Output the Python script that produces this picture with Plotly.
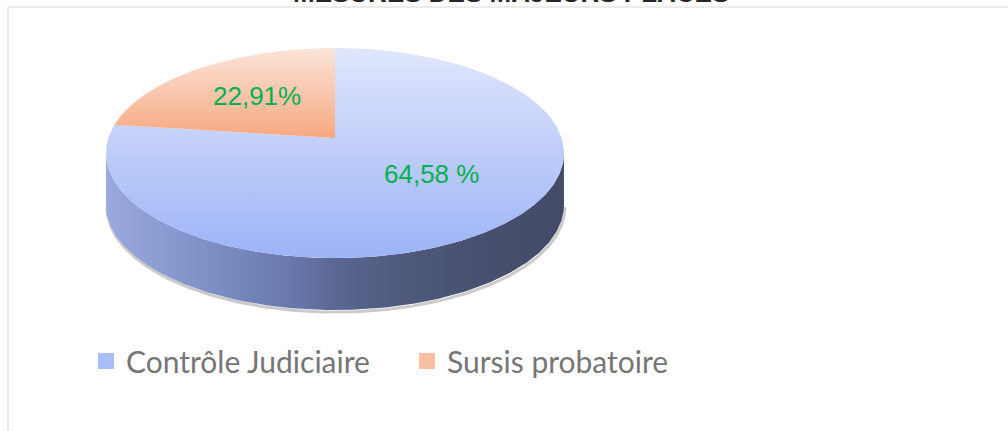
import numpy as np
import plotly.graph_objects as go

# ---- data ----
categories = ["Contrôle Judiciaire", "Sursis probatoire"]
shares = [77.09, 22.91]            # angular share of each slice as drawn
label_texts = ["64,58 %", "22,91%"]  # labels as printed on the chart
title_text = "MESURES DES MAJEURS PLACES"

# ---- styling / geometry ----
E = 0.143          # perspective factor of the tilted pie
DEPTH = 0.505      # thickness of the pie (y units)
top_scales = [
    [[0, "#9cb3f6"], [1, "#e0e7fc"]],
    [[0, "#f7a880"], [1, "#fbe5da"]],
]
legend_colors = ["#a9bdf8", "#f9bfa3"]
side_scale = [[0, "#9aaae0"], [0.205, "#8192c9"], [0.42, "#6676aa"], [0.51, "#5a6690"],
              [0.64, "#4f5a7d"], [0.82, "#47506e"], [1, "#424a66"]]


def proj(theta_deg, drop=0.0):
    t = np.radians(theta_deg)
    u = np.sin(t)
    v = -np.cos(t)
    w = 1 - E * v
    return u / w, -v / w - drop


fig = go.Figure()

# side wall (front half)
th_r = np.degrees(np.arccos(-E))
th_l = 360 - th_r
arc = np.linspace(th_r, th_l, 200)
tx, ty = proj(arc)
bx, by = proj(arc[::-1], DEPTH)

# soft shadow under the wall
sx, sy = proj(arc, DEPTH + 0.02)
fig.add_trace(go.Scatter(x=sx + 0.004, y=sy, mode="lines",
                         line=dict(color="rgba(80,80,80,0.3)", width=3),
                         hoverinfo="skip", showlegend=False))

fig.add_trace(go.Scatter(
    x=np.concatenate([tx, bx, tx[:1]]), y=np.concatenate([ty, by, ty[:1]]),
    mode="lines", line=dict(width=0), fill="toself",
    fillgradient=dict(type="horizontal", colorscale=side_scale,
                      start=float(tx.min()), stop=float(tx.max())),
    hoverinfo="skip", showlegend=False))

# top face slices
total = sum(shares)
y_top = proj(0)[1]
y_bot = proj(180)[1]
start = 0.0
for i, (cat, s) in enumerate(zip(categories, shares)):
    a0 = start
    a1 = start + 360 * s / total
    angs = np.linspace(a0, a1, 200)
    px, py = proj(angs)
    xs = np.concatenate([[0], px, [0]])
    ys = np.concatenate([[0], py, [0]])
    if i == 0:
        g0, g1 = float(y_bot), float(y_top)
    else:
        g0, g1 = 0.0, float(y_top)
    fig.add_trace(go.Scatter(
        x=xs, y=ys, mode="lines", line=dict(width=0), fill="toself",
        fillgradient=dict(type="vertical", colorscale=top_scales[i], start=g0, stop=g1),
        name=cat, hoverinfo="skip", showlegend=False))
    start = a1

# legend entries
for cat, col in zip(categories, legend_colors):
    fig.add_trace(go.Scatter(x=[None], y=[None], mode="markers", name=cat,
                             marker=dict(symbol="square", size=16, color=col)))

# data labels
label_pos = [(0.426, -0.350), (-0.346, 0.408)]
for txt, (lx, ly) in zip(label_texts, label_pos):
    fig.add_annotation(x=lx, y=ly, xref="x", yref="y", text=txt, showarrow=False,
                       font=dict(family="Liberation Sans, Arial", size=26, color="#00b050"))

# title (cut off at the top of the frame, as in the original)
fig.add_annotation(x=511 / 1008, y=1 + 7 / 431, xref="paper", yref="paper",
                   text="<b>" + title_text + "</b>", showarrow=False,
                   xanchor="center", yanchor="middle",
                   font=dict(family="Liberation Sans, Arial", size=26, color="#262626"))

# chart border
fig.add_shape(type="rect", xref="paper", yref="paper", x0=8 / 1008, x1=1.05,
              y0=-0.05, y1=1 - 7 / 431, line=dict(color="#d9d9d9", width=1),
              fillcolor="rgba(0,0,0,0)", layer="below")

fig.update_layout(
    width=1008, height=431,
    margin=dict(l=0, r=0, t=0, b=0),
    paper_bgcolor="white", plot_bgcolor="white",
    xaxis=dict(range=[-335 / 226.6, (1008 - 335) / 226.6], visible=False, fixedrange=True),
    yaxis=dict(range=[-(431 - 138) / 102.9, 138 / 102.9], visible=False, fixedrange=True),
    showlegend=True,
    legend=dict(orientation="h", x=86 / 1008, y=1 - 361 / 431, xanchor="left", yanchor="middle",
                font=dict(family="Lato", size=30, color="#767676"),
                entrywidth=276, entrywidthmode="pixels", bgcolor="rgba(0,0,0,0)"),
)

fig.write_html("out.html", config={"displayModeBar": False},
               post_script="document.body.style.margin='0px';")
